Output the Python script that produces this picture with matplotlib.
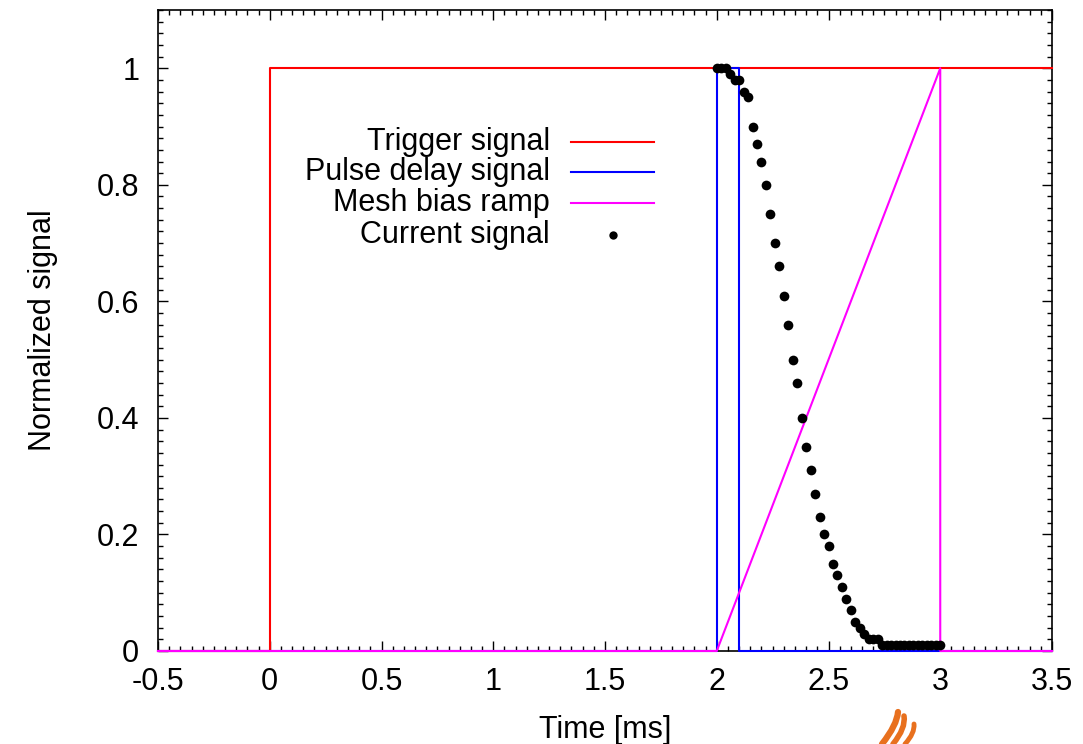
import matplotlib
matplotlib.use("Agg")
import matplotlib.pyplot as plt
from matplotlib.ticker import MultipleLocator
from matplotlib.patches import PathPatch
from matplotlib.path import Path

plt.rcParams['font.family'] = ['Liberation Sans', 'DejaVu Sans']

# Step signals (time in ms, normalized amplitude)
trigger_t = [-0.5, 0.0, 0.0, 3.5]
trigger_v = [0.0, 0.0, 1.0, 1.0]

pulse_t = [-0.5, 2.0, 2.0, 2.1, 2.1, 3.5]
pulse_v = [0.0, 0.0, 1.0, 1.0, 0.0, 0.0]

ramp_t = [-0.5, 2.0, 3.0, 3.0, 3.5]
ramp_v = [0.0, 0.0, 1.0, 0.0, 0.0]

# Measured current
current_t = [2.00, 2.02, 2.04, 2.06, 2.08, 2.10, 2.12, 2.14, 2.16, 2.18,
             2.20, 2.22, 2.24, 2.26, 2.28, 2.30, 2.32, 2.34, 2.36, 2.38,
             2.40, 2.42, 2.44, 2.46, 2.48, 2.50, 2.52, 2.54, 2.56, 2.58,
             2.60, 2.62, 2.64, 2.66, 2.68, 2.70, 2.72, 2.74, 2.76, 2.78,
             2.80, 2.82, 2.84, 2.86, 2.88, 2.90, 2.92, 2.94, 2.96, 2.98,
             3.00]
current_v = [1.00, 1.00, 1.00, 0.99, 0.98, 0.98, 0.96, 0.95, 0.90, 0.87,
             0.84, 0.80, 0.75, 0.70, 0.66, 0.61, 0.56, 0.50, 0.46, 0.40,
             0.35, 0.31, 0.27, 0.23, 0.20, 0.18, 0.15, 0.13, 0.11, 0.09,
             0.07, 0.05, 0.04, 0.03, 0.02, 0.02, 0.02, 0.01, 0.01, 0.01,
             0.01, 0.01, 0.01, 0.01, 0.01, 0.01, 0.01, 0.01, 0.01, 0.01,
             0.01]

xtick_vals = [-0.5, 0, 0.5, 1, 1.5, 2, 2.5, 3, 3.5]
xtick_labels = ["-0.5", "0", "0.5", "1", "1.5", "2", "2.5", "3", "3.5"]
ytick_vals = [0, 0.2, 0.4, 0.6, 0.8, 1.0]
ytick_labels = ["0", "0.2", "0.4", "0.6", "0.8", "1"]

labels = ["Trigger signal", "Pulse delay signal", "Mesh bias ramp", "Current signal"]
colors = ["#ff0000", "#0000ff", "#ff00ff", "#000000"]

FS = 22

fig = plt.figure(figsize=(10.83, 7.44), dpi=100)
ax = fig.add_axes([158 / 1083, 1 - 651 / 744, (1052 - 158) / 1083, (651 - 10) / 744])

lw = 1.5
ax.plot(trigger_t, trigger_v, color=colors[0], lw=lw, clip_on=False, zorder=3)
ax.plot(pulse_t, pulse_v, color=colors[1], lw=lw, clip_on=False, zorder=3)
ax.plot(ramp_t, ramp_v, color=colors[2], lw=lw, clip_on=False, zorder=3)
ax.plot(current_t, current_v, 'o', color=colors[3], ms=7, mec='none',
        clip_on=False, zorder=4)

ax.set_xlim(-0.5, 3.5)
ax.set_ylim(0, 1.1)
ax.xaxis.set_minor_locator(MultipleLocator(0.05))
ax.yaxis.set_minor_locator(MultipleLocator(0.02))
ax.set_xticks(xtick_vals)
ax.set_xticklabels(xtick_labels)
ax.set_yticks(ytick_vals)
ax.set_yticklabels(ytick_labels)

ax.tick_params(which='both', direction='in', top=True, right=True,
               labelsize=FS, width=1.0, color='black')
ax.tick_params(which='major', length=7)
ax.tick_params(which='minor', length=3.5)
ax.tick_params(axis='x', which='major', pad=11.5)
ax.tick_params(axis='y', which='major', pad=13.5)
for sp in ax.spines.values():
    sp.set_linewidth(1.2)

ax.set_xlabel("Time [ms]", fontsize=FS, labelpad=13)
ax.set_ylabel("Normalized signal", fontsize=FS, labelpad=28)

# Key, text right-aligned with the sample to its right
rows_y = [0.7945, 0.7473, 0.6989, 0.6490]
text_x = 0.4385
sample_x0, sample_x1 = 0.462, 0.5548
for i, (lab, col) in enumerate(zip(labels, colors)):
    ax.text(text_x, rows_y[i], lab, transform=ax.transAxes, ha='right',
            va='center', fontsize=FS)
    if i < 3:
        ax.plot([sample_x0, sample_x1], [rows_y[i], rows_y[i]], color=col,
                lw=lw, transform=ax.transAxes)
    else:
        ax.plot([(sample_x0 + sample_x1) / 2], [rows_y[i]], 'o', color=col,
                ms=6, mec='none', transform=ax.transAxes)

# Small flame emblem at the lower edge
def stroke(pts, w):
    verts = [(x / 1083, 1 - y / 744) for x, y in pts]
    codes = [Path.MOVETO] + [Path.CURVE3] * (len(verts) - 1)
    p = PathPatch(Path(verts, codes), fill=False, edgecolor='#e8701e',
                  lw=w, capstyle='round', transform=fig.transFigure)
    fig.add_artist(p)

stroke([(882, 744), (897, 725), (898, 712)], 4.5)
stroke([(893, 744), (906, 728), (904, 716)], 4.0)
stroke([(905, 744), (915, 733), (914, 724)], 3.5)

fig.savefig("out.png", dpi=100)
